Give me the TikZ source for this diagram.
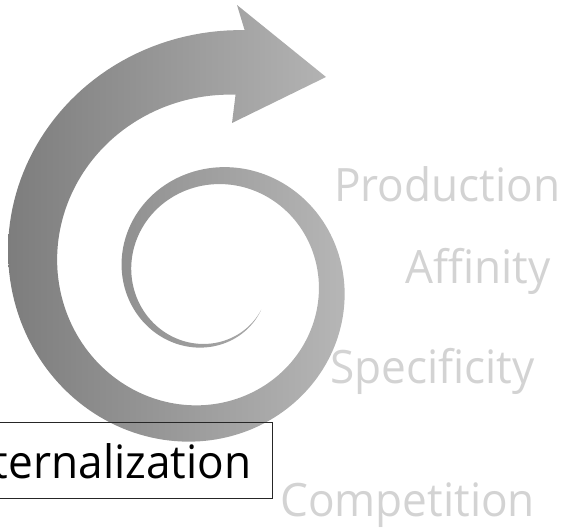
\documentclass[tikz,border=0pt]{standalone}
\usepackage{fontspec}
\setmainfont[FakeStretch=0.96]{Open Sans}
\usepackage{xcolor}
\usepackage{tikz}
\usetikzlibrary{calc}
\usetikzlibrary{positioning}

\definecolor{spiraldark}{RGB}{125,125,125}
\definecolor{spirallight}{RGB}{182,182,182}
\definecolor{stepgray}{RGB}{211,211,211}

\tikzset{
  declare function={
    spr(\t) = 83*exp(0.0020944*(\t-180));
    farr(\t) = 1.21*spr(\t) - 12.81;
    nearr(\t) = 0.79*spr(\t) + 12.81;
  },
  steplabel/.style={rectangle, inner sep=0pt, anchor=base west, text=stepgray,
    font=\fontsize{46}{50}\selectfont},
  boxlabel/.style={rectangle, draw=black!85, line width=0.8pt, anchor=base east,
    inner xsep=21pt, inner ysep=0pt, text height=56pt, text depth=20pt,
    font=\fontsize{46}{50}\selectfont}
}

\begin{document}
\begin{tikzpicture}[x=1pt, y=1pt]
\useasboundingbox (0, 0) rectangle (567, 528);
% spiral arrow
\shade [left color=spiraldark, right color=spirallight]
  plot [domain=33:638, samples=300] ({210+farr(\x)*cos(\x)}, {251.5-farr(\x)*sin(\x)})
  -- (237, 523) -- (326, 451) -- (232, 405)
  -- plot [domain=638:33, samples=300] ({210+nearr(\x)*cos(\x)}, {251.5-nearr(\x)*sin(\x)})
  -- cycle;
% labels
\node [steplabel] (prod) at (334, 326) {Production};
\node [steplabel] (aff) at (405, 245) {Affinity};
\node [steplabel] (spec) at (330, 145) {Specificity};
\node [steplabel] (comp) at (280, 12) {Competition};
\node [boxlabel] (intern) at (272.5, 50) {Internalization};
\end{tikzpicture}
\end{document}
